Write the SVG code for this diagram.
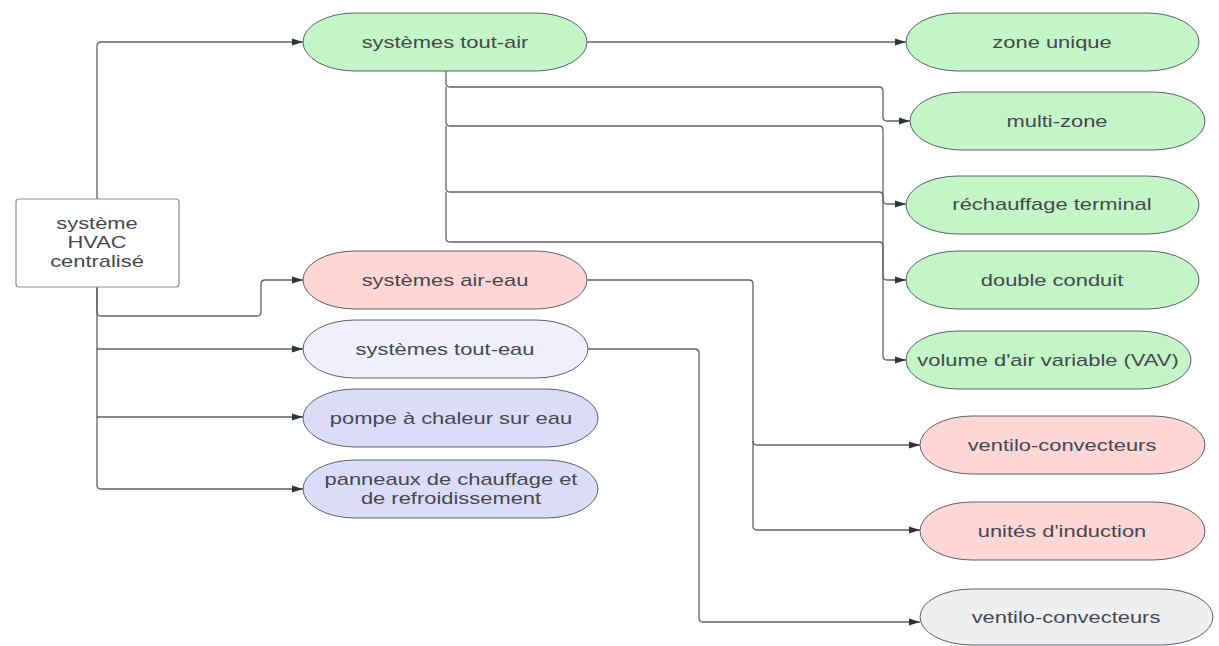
<svg xmlns="http://www.w3.org/2000/svg" width="1219" height="646" viewBox="0 0 1219 646">
  <style>
    .node { stroke: #5c6068; stroke-width: 1; }
    .root { fill: #ffffff; stroke: #8a8d92; stroke-width: 1.2; }
    .green { fill: #c3f5c6; }
    .pink { fill: #ffd6d6; }
    .lav { fill: #eff0fb; }
    .blue { fill: #dcdcf9; }
    .grey { fill: #eeeff1; }
    .lbl { font-family: "Liberation Sans", Arial, sans-serif; font-size: 16px; fill: #44484f; text-anchor: middle; }
    .wire { fill: none; stroke: #5e6268; stroke-width: 1.3; }
  </style>
  <defs>
    <marker id="arrow" viewBox="0 0 11 8" refX="11" refY="4" markerWidth="11" markerHeight="8" markerUnits="userSpaceOnUse" orient="auto">
      <path d="M0,0.5 L11,4 L0,7.5 Z" fill="#2f333a"/>
    </marker>
  </defs>
  <rect width="1219" height="646" fill="#ffffff"/>

  <!-- connectors -->
  <g id="connectors" class="wire">
    <!-- from the central HVAC system -->
    <path d="M97,199 V46 Q97,42 101,42 H303" marker-end="url(#arrow)"/>
    <path d="M97,287 V312 Q97,316 101,316 H257 Q261,316 261,312 V284 Q261,280 265,280 H303" marker-end="url(#arrow)"/>
    <path d="M97,287 V349 H303" marker-end="url(#arrow)"/>
    <path d="M97,349 V417 H303" marker-end="url(#arrow)"/>
    <path d="M97,417 V485 Q97,489 101,489 H303" marker-end="url(#arrow)"/>
    <!-- all-air branches -->
    <path d="M587,42 H906" marker-end="url(#arrow)"/>
    <path d="M446,71 V83 Q446,87 450,87 H879 Q883,87 883,91 V117 Q883,121 887,121 H910" marker-end="url(#arrow)"/>
    <path d="M446,87 V122 Q446,126 450,126 H879 Q883,126 883,130 V356 Q883,360 887,360 H906" marker-end="url(#arrow)"/>
    <path d="M446,126 V188 Q446,192 450,192 H879 Q883,192 883,196 V200 Q883,204 887,204 H906" marker-end="url(#arrow)"/>
    <path d="M446,192 V238 Q446,242 450,242 H879 Q883,242 883,246 V276 Q883,280 887,280 H906" marker-end="url(#arrow)"/>
    <!-- air-water branches -->
    <path d="M587,280 H749 Q753,280 753,284 V441 Q753,445 757,445 H920" marker-end="url(#arrow)"/>
    <path d="M753,441 V526 Q753,530 757,530 H920" marker-end="url(#arrow)"/>
    <!-- all-water branch -->
    <path d="M588,349 H695 Q699,349 699,353 V618 Q699,622 703,622 H920" marker-end="url(#arrow)"/>
  </g>

  <!-- nodes -->
  <g id="n-root">
    <rect class="root" x="16" y="199" width="163" height="88" rx="3"/>
    <text class="lbl" transform="translate(97,223) scale(1.37,1)" y="5.5">système</text>
    <text class="lbl" transform="translate(97,242) scale(1.37,1)" y="5.5">HVAC</text>
    <text class="lbl" transform="translate(97,261) scale(1.37,1)" y="5.5">centralisé</text>
  </g>

  <g id="n-tout-air">
    <rect class="node green" x="303" y="13" width="284" height="58" rx="52" ry="29"/>
    <text class="lbl" transform="translate(445,42) scale(1.37,1)" y="5.5">systèmes tout-air</text>
  </g>
  <g id="n-air-eau">
    <rect class="node pink" x="303" y="251" width="284" height="58" rx="52" ry="29"/>
    <text class="lbl" transform="translate(445,280) scale(1.37,1)" y="5.5">systèmes air-eau</text>
  </g>
  <g id="n-tout-eau">
    <rect class="node lav" x="303" y="320" width="285" height="58" rx="52" ry="29"/>
    <text class="lbl" transform="translate(445,349) scale(1.37,1)" y="5.5">systèmes tout-eau</text>
  </g>
  <g id="n-pompe">
    <rect class="node blue" x="303" y="389" width="295" height="58" rx="52" ry="29"/>
    <text class="lbl" transform="translate(451,418) scale(1.37,1)" y="5.5">pompe à chaleur sur eau</text>
  </g>
  <g id="n-panneaux">
    <rect class="node blue" x="303" y="460" width="295" height="58" rx="52" ry="29"/>
    <text class="lbl" transform="translate(451,479) scale(1.37,1)" y="5.5">panneaux de chauffage et</text>
    <text class="lbl" transform="translate(451,498) scale(1.37,1)" y="5.5">de refroidissement</text>
  </g>

  <g id="n-zone-unique">
    <rect class="node green" x="906" y="13" width="293" height="58" rx="52" ry="29"/>
    <text class="lbl" transform="translate(1052,42) scale(1.37,1)" y="5.5">zone unique</text>
  </g>
  <g id="n-multi-zone">
    <rect class="node green" x="910" y="92" width="295" height="58" rx="52" ry="29"/>
    <text class="lbl" transform="translate(1057,121) scale(1.37,1)" y="5.5">multi-zone</text>
  </g>
  <g id="n-rechauffage">
    <rect class="node green" x="906" y="176" width="293" height="58" rx="52" ry="29"/>
    <text class="lbl" transform="translate(1052,204) scale(1.37,1)" y="5.5">réchauffage terminal</text>
  </g>
  <g id="n-double-conduit">
    <rect class="node green" x="906" y="251" width="293" height="58" rx="52" ry="29"/>
    <text class="lbl" transform="translate(1052,280) scale(1.37,1)" y="5.5">double conduit</text>
  </g>
  <g id="n-vav">
    <rect class="node green" x="906" y="331" width="285" height="58" rx="52" ry="29"/>
    <text class="lbl" transform="translate(1048,360) scale(1.37,1)" y="5.5">volume d'air variable (VAV)</text>
  </g>
  <g id="n-ventilo-air-eau">
    <rect class="node pink" x="920" y="416" width="285" height="58" rx="52" ry="29"/>
    <text class="lbl" transform="translate(1062,445) scale(1.37,1)" y="5.5">ventilo-convecteurs</text>
  </g>
  <g id="n-induction">
    <rect class="node pink" x="920" y="502" width="285" height="58" rx="52" ry="29"/>
    <text class="lbl" transform="translate(1062,531) scale(1.37,1)" y="5.5">unités d'induction</text>
  </g>
  <g id="n-ventilo-tout-eau">
    <rect class="node grey" x="920" y="589" width="293" height="56" rx="52" ry="28"/>
    <text class="lbl" transform="translate(1066,617) scale(1.37,1)" y="5.5">ventilo-convecteurs</text>
  </g>
</svg>
